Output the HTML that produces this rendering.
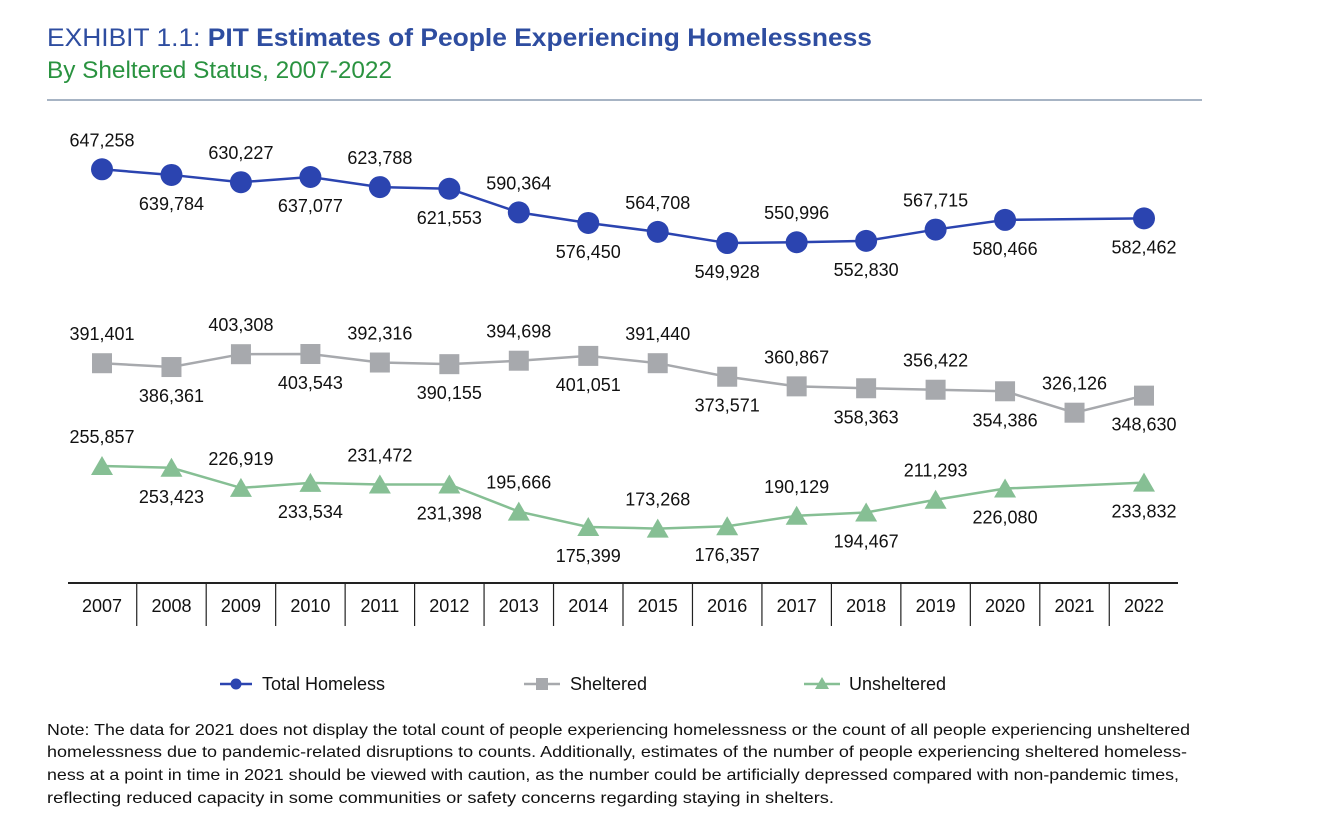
<!DOCTYPE html>
<html><head><meta charset="utf-8"><style>
html,body{margin:0;padding:0;background:#fff;}
svg{display:block;font-family:"Liberation Sans",sans-serif;}
</style></head><body>
<svg id="c" width="1319" height="834" viewBox="0 0 1319 834">
<text x="47" y="46" font-size="25" fill="#2e4da0" textLength="825" lengthAdjust="spacingAndGlyphs">EXHIBIT 1.1: <tspan font-weight="bold">PIT Estimates of People Experiencing Homelessness</tspan></text>
<text x="47" y="78" font-size="24" fill="#2a9340" textLength="345" lengthAdjust="spacingAndGlyphs">By Sheltered Status, 2007-2022</text>
<line x1="47" y1="100" x2="1202" y2="100" stroke="#8a9bb0" stroke-width="1.5"/>
<g id="plot"></g>
<g>
 <g><line x1="220" y1="684" x2="252" y2="684" stroke="#2b44b0" stroke-width="2.5"/><circle cx="236" cy="684" r="5.5" fill="#2b44b0"/><text x="262" y="690" font-size="18" fill="#111">Total Homeless</text></g>
 <g><line x1="524" y1="684" x2="560" y2="684" stroke="#a7a9ad" stroke-width="2.5"/><rect x="536" y="678" width="12" height="12" fill="#a7a9ad"/><text x="570" y="690" font-size="18" fill="#111">Sheltered</text></g>
 <g><line x1="804" y1="684" x2="840" y2="684" stroke="#86bf94" stroke-width="2.5"/><polygon points="822,677 829,689 815,689" fill="#86bf94"/><text x="849" y="690" font-size="18" fill="#111">Unsheltered</text></g>
</g>
<g font-size="16" fill="#111">
<text x="47" y="735" textLength="1143" lengthAdjust="spacingAndGlyphs">Note: The data for 2021 does not display the total count of people experiencing homelessness or the count of all people experiencing unsheltered</text>
<text x="47" y="757" textLength="1140" lengthAdjust="spacingAndGlyphs">homelessness due to pandemic-related disruptions to counts. Additionally, estimates of the number of people experiencing sheltered homeless-</text>
<text x="47" y="780" textLength="1132" lengthAdjust="spacingAndGlyphs">ness at a point in time in 2021 should be viewed with caution, as the number could be artificially depressed compared with non-pandemic times,</text>
<text x="47" y="803" textLength="787" lengthAdjust="spacingAndGlyphs">reflecting reduced capacity in some communities or safety concerns regarding staying in shelters.</text>
</g>
</svg>
<script>
const years=[2007,2008,2009,2010,2011,2012,2013,2014,2015,2016,2017,2018,2019,2020,2021,2022];
const totalVals=[647258,639784,630227,637077,623788,621553,590364,576450,564708,549928,550996,552830,567715,580466,null,582462];
const shelteredVals=[391401,386361,403308,403543,392316,390155,394698,401051,391440,373571,360867,358363,356422,354386,326126,348630];
const unshelteredVals=[255857,253423,226919,233534,231472,231398,195666,175399,173268,176357,190129,194467,211293,226080,null,233832];
const totalAbove=[1,0,1,0,1,0,1,0,1,0,1,0,1,0,0,0];
const shelteredAbove=[1,0,1,0,1,0,1,0,1,0,1,0,1,0,1,0];
const unshelteredAbove=[1,0,1,0,1,0,1,0,1,0,1,0,1,0,0,0];
const NS='http://www.w3.org/2000/svg';
const g=document.getElementById('plot');
const xS=i=>102+i*(1144-102)/(years.length-1);
const yS=v=>659.9-v*0.000758;
function mk(t,a){const e=document.createElementNS(NS,t);for(const k in a)e.setAttribute(k,a[k]);g.appendChild(e);return e;}
// axis
const ax=mk('line',{x1:68,y1:583,x2:1178,y2:583,stroke:'#222','stroke-width':2});


years.forEach((y,i)=>{
 const t=mk('text',{x:xS(i),y:612,'font-size':18,'text-anchor':'middle',fill:'#111'});t.textContent=y;
 
 
 if(i<years.length-1){const s=mk('line',{x1:(xS(i)+xS(i+1))/2,y1:583,x2:(xS(i)+xS(i+1))/2,y2:626,stroke:'#222','stroke-width':1.2});
 
 }
});
function series(vals,above,color,shape,name){
 const pts=[];vals.forEach((v,i)=>{if(v!=null)pts.push([xS(i),yS(v)]);});
 const p=mk('polyline',{points:pts.map(p=>p.join(',')).join(' '),fill:'none',stroke:color,'stroke-width':2.5});
 
 
 vals.forEach((v,i)=>{if(v==null)return;const x=xS(i),y=yS(v);let m;
  if(shape==='c')m=mk('circle',{cx:x,cy:y,r:11,fill:color});
  else if(shape==='s')m=mk('rect',{x:x-10,y:y-10,width:20,height:20,fill:color});
  else m=mk('polygon',{points:`${x},${y-10} ${x+11},${y+9} ${x-11},${y+9}`,fill:color});
  
  
  const t=mk('text',{x:x,y:above[i]?y-23:y+35,'font-size':18,'text-anchor':'middle',fill:'#111'});
  t.textContent=v.toLocaleString('en-US');
  
  
 });
}
series(totalVals,totalAbove,'#2b44b0','c','total-homeless');
series(shelteredVals,shelteredAbove,'#a7a9ad','s','sheltered');
series(unshelteredVals,unshelteredAbove,'#86bf94','t','unsheltered');
</script>
</body></html>
